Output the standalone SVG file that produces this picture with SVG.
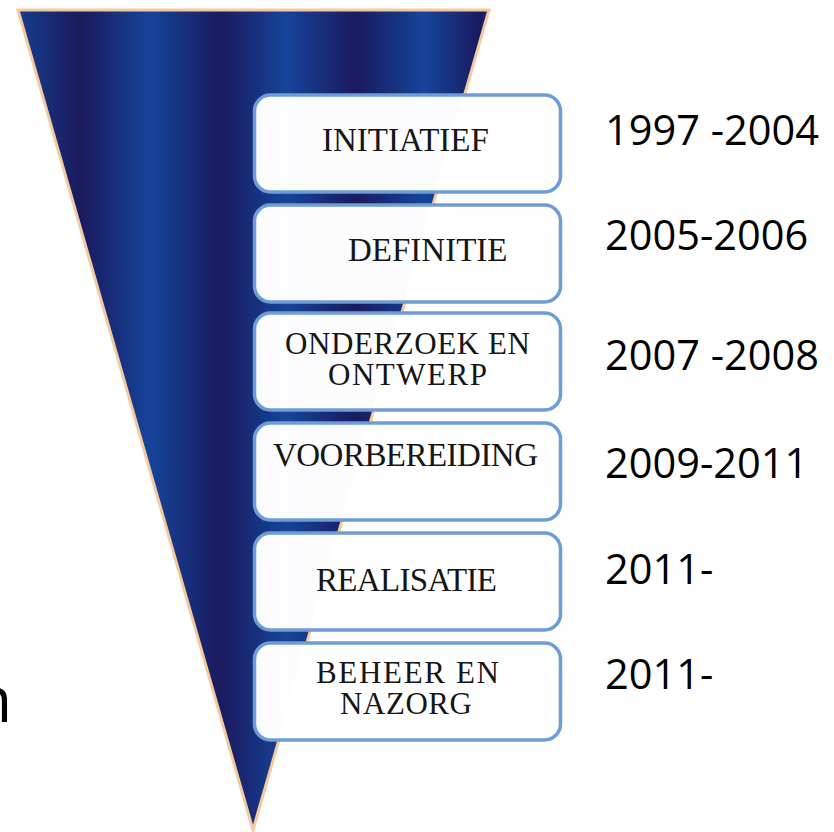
<svg xmlns="http://www.w3.org/2000/svg" width="834" height="832" viewBox="0 0 834 832">
<defs>
<linearGradient id="stripes" gradientUnits="userSpaceOnUse" x1="18" y1="0" x2="489" y2="0">
<stop offset="0" stop-color="#183d8f"/>
<stop offset="0.132" stop-color="#1a1a5e"/>
<stop offset="0.280" stop-color="#16449a"/>
<stop offset="0.429" stop-color="#1a1a5e"/>
<stop offset="0.571" stop-color="#16449a"/>
<stop offset="0.715" stop-color="#1a1a5e"/>
<stop offset="0.864" stop-color="#16449a"/>
<stop offset="0.981" stop-color="#1a1a5e"/>
<stop offset="1" stop-color="#1c2a70"/>
</linearGradient>
<style>
.box{fill:#ffffff;fill-opacity:0.99;stroke:#6e9dd6;stroke-width:3.5}
.lbl{font-family:"Liberation Serif","Times New Roman",serif;font-size:33px;fill:#151515}
.lbl2{font-family:"Liberation Serif","Times New Roman",serif;font-size:31px;fill:#151515}
.date{font-family:"Open Sans","Noto Sans",sans-serif;font-size:41.5px;fill:#000}
</style>
</defs>
<rect width="834" height="832" fill="#ffffff"/>
<g id="funnel">
<polygon points="18,10 489,10 253,830" fill="url(#stripes)" stroke="#f4c99f" stroke-width="3" stroke-linejoin="miter"/>
</g>
<g id="connectors"/>
<g id="initiatief">
<rect class="box" x="254.5" y="95" width="306" height="97" rx="16"/>
<text class="lbl" x="322" y="151">INITIATIEF</text>
</g>
<g id="definitie">
<rect class="box" x="254.5" y="205" width="306" height="97" rx="16"/>
<text class="lbl" x="348" y="261">DEFINITIE</text>
</g>
<g id="onderzoek">
<rect class="box" x="254.5" y="313" width="306" height="97" rx="16"/>
<text class="lbl2" x="285" y="354" textLength="245">ONDERZOEK EN</text>
<text class="lbl2" x="328" y="385" textLength="159">ONTWERP</text>
</g>
<g id="voorbereiding">
<rect class="box" x="254.5" y="423" width="306" height="97" rx="16"/>
<text class="lbl" x="273" y="466" textLength="265">VOORBEREIDING</text>
</g>
<g id="realisatie">
<rect class="box" x="254.5" y="533" width="306" height="97" rx="16"/>
<text class="lbl" x="316" y="591" textLength="181">REALISATIE</text>
</g>
<g id="beheer">
<rect class="box" x="254.5" y="643" width="306" height="97" rx="16"/>
<text class="lbl2" x="316" y="683" textLength="183">BEHEER EN</text>
<text class="lbl2" x="340" y="714" textLength="132">NAZORG</text>
</g>
<g id="dates">
<text class="date" x="605" y="145">1997 -2004</text>
<text class="date" x="605" y="250">2005-2006</text>
<text class="date" x="605" y="370">2007 -2008</text>
<text class="date" x="605" y="478">2009-2011</text>
<text class="date" x="605" y="584">2011-</text>
<text class="date" x="605" y="689">2011-</text>
</g>
<g id="fragment">
<text x="-27" y="722" style="font-family:'Open Sans','Noto Sans',sans-serif;font-size:64px;fill:#000">n</text>
</g>
</svg>
